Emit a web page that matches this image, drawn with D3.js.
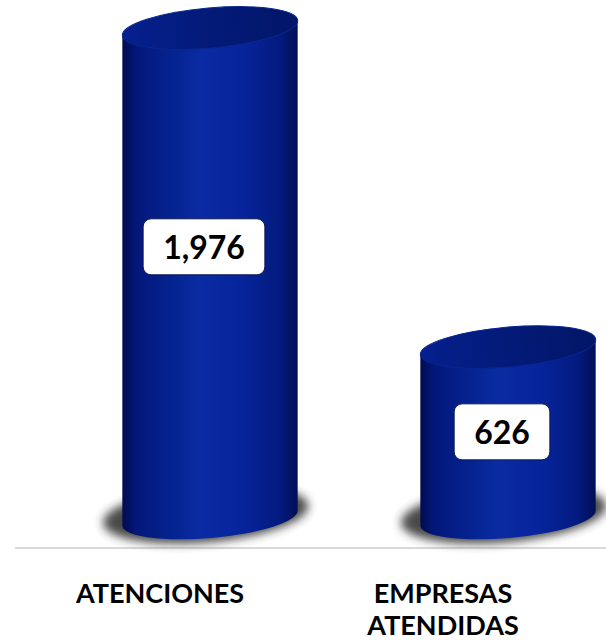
<!DOCTYPE html>
<html>
<head>
<meta charset="utf-8">
<script src="https://cdn.jsdelivr.net/npm/d3@7"></script>
<style>
	body { margin: 0; background: #fff; }
	text { font-family: Lato, "Open Sans", sans-serif; font-weight: bold; }
</style>
</head>
<body>
<div id="chart"></div>
<script>
const width = 606;
const height = 644;

const categories = ["ATENCIONES", "EMPRESAS ATENDIDAS"];
const labelLines = [["ATENCIONES"], ["EMPRESAS", "ATENDIDAS"]];
const values = [1976, 626];

const FLOOR = 518;
const RX = 88;
const RY = 20;
const TILT = -5;

let svg = d3
	.select("#chart")
	.append("svg")
	.attr("width", width)
	.attr("height", height);

const defs = svg.append("defs");

const grad = defs
	.append("linearGradient")
	.attr("id", "body-grad")
	.attr("x1", "0%")
	.attr("x2", "100%")
	.attr("y1", "0%")
	.attr("y2", "0%");
[
	[0, "#010c4e"],
	[0.08, "#03177a"],
	[0.3, "#052492"],
	[0.45, "#0a2ba3"],
	[0.7, "#06239a"],
	[0.9, "#031a7e"],
	[1, "#020f55"],
].forEach(([o, c]) => {
	grad.append("stop").attr("offset", o).attr("stop-color", c);
});

const capGrad = defs
	.append("linearGradient")
	.attr("id", "cap-grad")
	.attr("x1", "0%")
	.attr("x2", "100%")
	.attr("y1", "0%")
	.attr("y2", "0%");
[
	[0, "#05208e"],
	[0.5, "#031a78"],
	[1, "#021668"],
].forEach(([o, c]) => {
	capGrad.append("stop").attr("offset", o).attr("stop-color", c);
});

defs
	.append("filter")
	.attr("id", "blur")
	.attr("x", "-30%")
	.attr("y", "-50%")
	.attr("width", "160%")
	.attr("height", "200%")
	.append("feGaussianBlur")
	.attr("stdDeviation", 5);

// x for the cylinders and for the labels (3D offset in the original)
const xBar = d3.scalePoint().domain(categories).range([210, 508]);
const xLabel = d3.scalePoint().domain(categories).range([160, 443]);
const y = d3.scaleLinear().domain([0, 1976]).range([495, 28]);

// baseline
svg
	.append("line")
	.attr("x1", 15)
	.attr("x2", width)
	.attr("y1", 548)
	.attr("y2", 548)
	.style("stroke", "#d9d9d9")
	.style("stroke-width", 2);

const t = (TILT * Math.PI) / 180;
const dx = RX * Math.cos(t);
const dy = RX * Math.sin(t);

const bars = svg
	.selectAll(".cyl")
	.data(categories.map((c, i) => ({ c, v: values[i] })))
	.join("g")
	.attr("class", "cyl");

// shadow under each cylinder
bars
	.append("ellipse")
	.attr("cx", (d) => xBar(d.c) - 4)
	.attr("cy", FLOOR - 4)
	.attr("rx", RX + 15)
	.attr("ry", RY + 8)
	.attr("transform", (d) => `rotate(${TILT},${xBar(d.c)},${FLOOR})`)
	.style("fill", "#2a2a2a")
	.style("opacity", 0.85)
	.attr("filter", "url(#blur)");

bars
	.append("path")
	.attr("d", (d) => {
		const cx = xBar(d.c);
		const top = y(d.v);
		return (
			`M${cx - dx},${top - dy} L${cx - dx},${FLOOR - dy}` +
			` A${RX},${RY} ${TILT} 0 0 ${cx + dx},${FLOOR + dy}` +
			` L${cx + dx},${top + dy} Z`
		);
	})
	.style("fill", "url(#body-grad)");

bars
	.append("ellipse")
	.attr("cx", (d) => xBar(d.c))
	.attr("cy", (d) => y(d.v))
	.attr("rx", RX)
	.attr("ry", RY)
	.attr("transform", (d) => `rotate(${TILT},${xBar(d.c)},${y(d.v)})`)
	.style("fill", "url(#cap-grad)")
	.style("stroke", "#0a2690")
	.style("stroke-width", 1);

// value boxes
bars.each(function (d) {
	const g = d3.select(this);
	const top = y(d.v);
	const cx = xBar(d.c) - 6;
	const cy = top + (FLOOR - top) * 0.42 + 13;
	const txt = g
		.append("text")
		.attr("x", cx)
		.attr("y", cy + 12)
		.attr("text-anchor", "middle")
		.attr("font-size", "32px")
		.style("fill", "#000")
		.text(d3.format(",")(d.v));
	const w = txt.node().getComputedTextLength() + 40;
	g.insert("rect", "text")
		.attr("x", cx - w / 2)
		.attr("y", cy - 28)
		.attr("width", w)
		.attr("height", 56)
		.attr("rx", 8)
		.style("fill", "#fff")
		.style("stroke", "#0a1a50")
		.style("stroke-width", 1);
});

// category labels
svg
	.selectAll(".cat")
	.data(categories)
	.join("text")
	.attr("class", "cat")
	.attr("x", (d) => xLabel(d))
	.attr("y", 603)
	.attr("text-anchor", "middle")
	.attr("font-size", "27px")
	.style("fill", "#000")
	.selectAll("tspan")
	.data((d, i) => labelLines[i])
	.join("tspan")
	.attr("x", function () {
		return this.parentNode.getAttribute("x");
	})
	.attr("dy", (d, i) => (i === 0 ? 0 : 32))
	.text((d) => d);
</script>
</body>
</html>
